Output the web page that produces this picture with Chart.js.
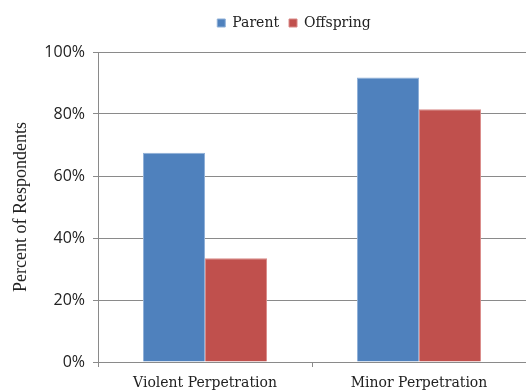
<!DOCTYPE html>
<html>
<head>
<meta charset="utf-8">
<script src="https://cdn.jsdelivr.net/npm/chart.js@4/dist/chart.umd.min.js"></script>
<style>
  html, body { margin: 0; padding: 0; background: #fff; }
  #wrap { width: 526px; height: 392px; }
</style>
</head>
<body>
<div id="wrap"><canvas id="perpChart"></canvas></div>
<script>
const categories = ['Violent Perpetration', 'Minor Perpetration'];
const parentValues = [67.5, 91.8];
const offspringValues = [33.5, 81.5];
const yTicks = [0, 20, 40, 60, 80, 100];

const slabSerif = '"DejaVu Serif", serif';
const gridGray = '#8a8a8a';

// keep the legend band a fixed height and nudge it right, over the plot
const legendSpacing = {
    id: 'legendSpacing',
    afterInit(chart) {
        const legend = chart.legend;
        const fit = legend.fit.bind(legend);
        legend.fit = function() {
            fit();
            this.height = 46;
        };
    },
    afterLayout(chart) {
        chart.legend.left += 31;
        chart.legend.right += 31;
    }
};

const ctx = document.getElementById('perpChart').getContext('2d');
new Chart(ctx, {
    type: 'bar',
    data: {
        labels: categories,
        datasets: [
            {
                label: 'Parent',
                data: parentValues,
                backgroundColor: '#4F81BD',
                borderColor: '#8fb0d8',
                borderWidth: 1
            },
            {
                label: 'Offspring',
                data: offspringValues,
                backgroundColor: '#C0504D',
                borderColor: '#d98a88',
                borderWidth: 1
            }
        ]
    },
    plugins: [legendSpacing],
    options: {
        responsive: true,
        maintainAspectRatio: false,
        animation: false,
        layout: { padding: { top: 6, right: 0, bottom: 0, left: 0 } },
        datasets: {
            bar: { categoryPercentage: 0.58, barPercentage: 1.0 }
        },
        plugins: {
            legend: {
                position: 'top',
                labels: {
                    boxWidth: 8,
                    boxHeight: 8,
                    padding: 10,
                    color: '#222',
                    font: { family: slabSerif, size: 14 }
                }
            },
            tooltip: { enabled: false }
        },
        scales: {
            x: {
                afterFit: axis => { axis.height = 30; },
                grid: {
                    offset: true,
                    drawOnChartArea: false,
                    drawTicks: true,
                    tickLength: 5,
                    color: gridGray
                },
                border: { color: gridGray },
                ticks: {
                    color: '#222',
                    padding: 8,
                    font: { family: slabSerif, size: 14 }
                }
            },
            y: {
                min: 0,
                max: 100,
                afterBuildTicks: axis => {
                    axis.ticks = yTicks.map(v => ({ value: v }));
                },
                afterFit: axis => { axis.width = 98; },
                grid: {
                    color: gridGray,
                    tickLength: 5
                },
                border: { color: gridGray },
                ticks: {
                    color: '#222',
                    padding: 8,
                    font: { family: '"Open Sans", sans-serif', size: 16 },
                    callback: v => v + '%'
                },
                title: {
                    display: true,
                    text: 'Percent of Respondents',
                    color: '#222',
                    padding: { top: 10, bottom: 0 },
                    font: { family: '"Liberation Serif", serif', size: 18 }
                }
            }
        }
    }
});
</script>
</body>
</html>
